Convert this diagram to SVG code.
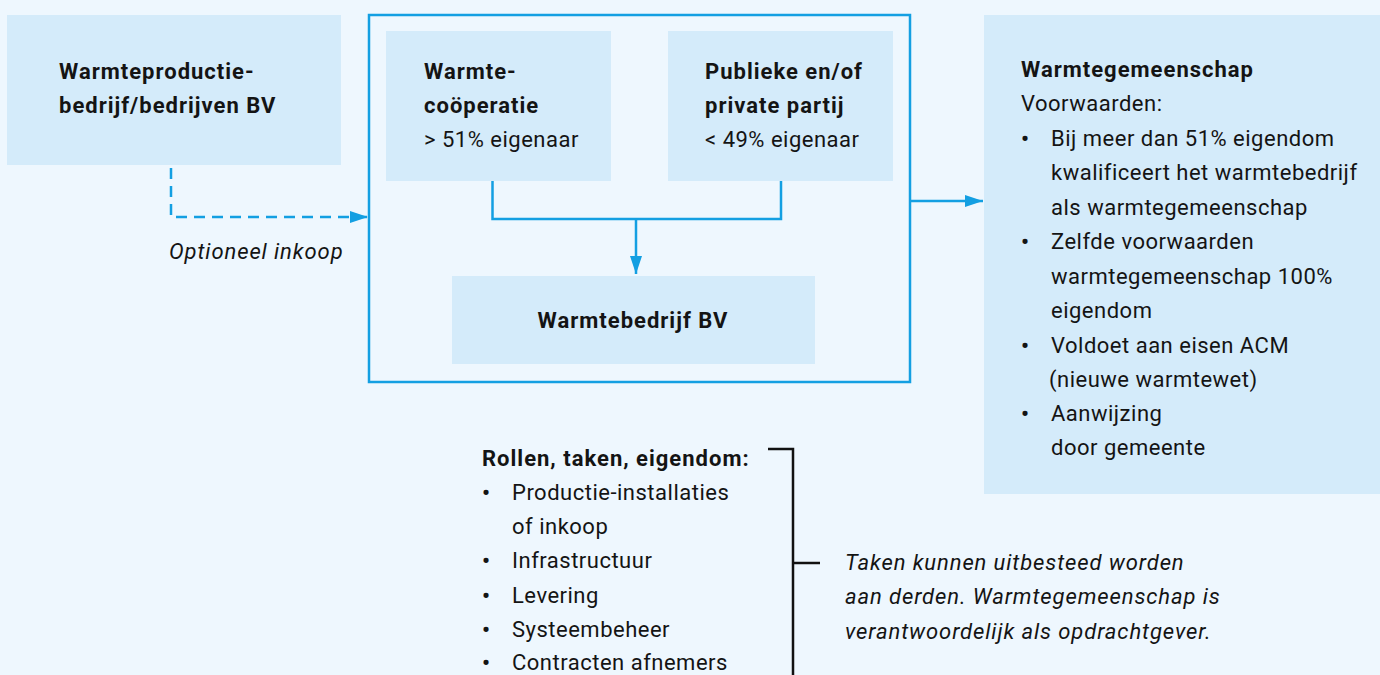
<svg xmlns="http://www.w3.org/2000/svg" width="1380" height="675" viewBox="0 0 1380 675">
<defs>
<style>
.t{font-family:Roboto,"Liberation Sans",sans-serif;font-size:22px;fill:#141414;letter-spacing:0.5px}
.b{font-weight:bold;letter-spacing:1px}
.i{font-style:italic;letter-spacing:0.9px}
.d{font-weight:bold}
.box{fill:#d4ebfa}
.ln{fill:none;stroke:#139fe2;stroke-width:2.5}
.br{fill:none;stroke:#111;stroke-width:2.5}
</style>
<marker id="ah" viewBox="0 0 18 12" refX="18" refY="6" markerWidth="18" markerHeight="12" markerUnits="userSpaceOnUse" orient="auto">
<path d="M0,0 L18,6 L0,12 Z" fill="#139fe2"/>
</marker>
</defs>
<rect width="1380" height="675" fill="#eef7fe"/>
<g id="producer">
<rect class="box" x="7" y="15" width="334" height="150"/>
<text class="t b" x="59" y="79">Warmteproductie-</text>
<text class="t b" x="59" y="113">bedrijf/bedrijven BV</text>
</g>
<g id="container">
<rect x="369" y="15" width="541" height="367" fill="none" stroke="#139fe2" stroke-width="2.5"/>
</g>
<g id="cooperatie">
<rect class="box" x="386" y="31" width="225" height="150"/>
<text class="t b" x="424" y="79">Warmte-</text>
<text class="t b" x="424" y="113">coöperatie</text>
<text class="t" x="424" y="147">&gt; 51% eigenaar</text>
</g>
<g id="partij">
<rect class="box" x="668" y="31" width="225" height="150"/>
<text class="t b" x="705" y="79">Publieke en/of</text>
<text class="t b" x="705" y="113">private partij</text>
<text class="t" x="705" y="147">&lt; 49% eigenaar</text>
</g>
<g id="warmtebedrijf">
<rect class="box" x="452" y="276" width="363" height="88"/>
<text class="t b" x="633" y="328" text-anchor="middle">Warmtebedrijf BV</text>
</g>
<g id="gemeenschap">
<rect class="box" x="984" y="15" width="396" height="479"/>
<text class="t b" x="1021" y="77">Warmtegemeenschap</text>
<text class="t" x="1021" y="111">Voorwaarden:</text>
<text class="t d" x="1021" y="146">•</text>
<text class="t" x="1051" y="146">Bij meer dan 51% eigendom</text>
<text class="t" x="1051" y="180">kwalificeert het warmtebedrijf</text>
<text class="t" x="1051" y="215">als warmtegemeenschap</text>
<text class="t d" x="1021" y="249">•</text>
<text class="t" x="1051" y="249">Zelfde voorwaarden</text>
<text class="t" x="1051" y="284">warmtegemeenschap 100%</text>
<text class="t" x="1051" y="318">eigendom</text>
<text class="t d" x="1021" y="353">•</text>
<text class="t" x="1051" y="353">Voldoet aan eisen ACM</text>
<text class="t" x="1049" y="387">(nieuwe warmtewet)</text>
<text class="t d" x="1021" y="421">•</text>
<text class="t" x="1051" y="421">Aanwijzing</text>
<text class="t" x="1051" y="455">door gemeente</text>
</g>
<g id="rollen">
<text class="t b" x="482" y="466">Rollen, taken, eigendom:</text>
<text class="t d" x="482" y="500">•</text>
<text class="t" x="512" y="500">Productie-installaties</text>
<text class="t" x="512" y="534">of inkoop</text>
<text class="t d" x="482" y="568">•</text>
<text class="t" x="512" y="568">Infrastructuur</text>
<text class="t d" x="482" y="603">•</text>
<text class="t" x="512" y="603">Levering</text>
<text class="t d" x="482" y="637">•</text>
<text class="t" x="512" y="637">Systeembeheer</text>
<text class="t d" x="482" y="670">•</text>
<text class="t" x="512" y="670">Contracten afnemers</text>
</g>
<g id="note">
<text class="t i" x="845" y="570">Taken kunnen uitbesteed worden</text>
<text class="t i" x="845" y="604">aan derden. Warmtegemeenschap is</text>
<text class="t i" x="845" y="639">verantwoordelijk als opdrachtgever.</text>
</g>
<g id="connectors">
<path class="ln" d="M171,168 V217 H368" stroke-dasharray="11 7" marker-end="url(#ah)"/>
<text class="t i" x="169" y="259">Optioneel inkoop</text>
<path class="ln" d="M492.5,181 V219 H781 V181"/>
<path class="ln" d="M636,219 V274" marker-end="url(#ah)"/>
<path class="ln" d="M910,201 H983" marker-end="url(#ah)"/>
<path class="br" d="M768,449 H793 V675"/>
<path class="br" d="M793,563 H820"/>
</g>
</svg>
